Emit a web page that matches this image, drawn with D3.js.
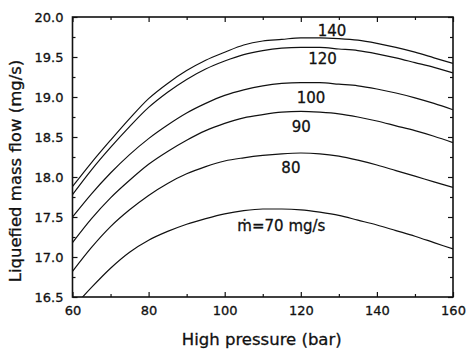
<!DOCTYPE html>
<html>
<head>
<meta charset="utf-8">
<script src="https://cdn.jsdelivr.net/npm/d3@7"></script>
<style>
  html, body { margin: 0; padding: 0; background: #fff; }
  svg { display: block; }
  text { font-family: "DejaVu Sans", sans-serif; fill: #111; stroke: #111; stroke-width: 0.3; }
</style>
</head>
<body>
<svg id="chart" width="466" height="352"></svg>
<script>
// High pressure (bar) sample points
const pressure = [60, 65, 70, 75, 80, 85, 90, 95, 100, 105, 110, 115, 120, 125, 130, 135, 140, 145, 150, 155, 160];

// Liquefied mass flow (mg/s) for each compressor mass flow
const flow140 = [17.88, 18.18, 18.46, 18.73, 18.98, 19.17, 19.33, 19.46, 19.56, 19.65, 19.70, 19.72, 19.74, 19.74, 19.73, 19.71, 19.67, 19.62, 19.56, 19.49, 19.42];
const flow120 = [17.78, 18.09, 18.37, 18.63, 18.87, 19.06, 19.22, 19.35, 19.45, 19.53, 19.58, 19.61, 19.62, 19.62, 19.60, 19.58, 19.54, 19.49, 19.43, 19.37, 19.30];
const flow100 = [17.50, 17.79, 18.05, 18.28, 18.48, 18.65, 18.80, 18.92, 19.02, 19.09, 19.14, 19.17, 19.18, 19.18, 19.16, 19.14, 19.10, 19.05, 18.99, 18.92, 18.84];
const flow90  = [17.18, 17.48, 17.74, 17.96, 18.16, 18.32, 18.46, 18.58, 18.67, 18.74, 18.78, 18.81, 18.82, 18.81, 18.79, 18.75, 18.70, 18.64, 18.58, 18.51, 18.43];
const flow80  = [16.82, 17.12, 17.38, 17.59, 17.77, 17.92, 18.04, 18.13, 18.20, 18.24, 18.27, 18.29, 18.30, 18.29, 18.26, 18.21, 18.15, 18.08, 18.01, 17.94, 17.87];
const flow70  = [16.36, 16.62, 16.86, 17.06, 17.21, 17.32, 17.41, 17.48, 17.54, 17.58, 17.60, 17.60, 17.59, 17.56, 17.52, 17.46, 17.40, 17.33, 17.26, 17.18, 17.10];

// Curve labels and where they sit (pressure, mass flow)
const curveLabels = ["140", "120", "100", "90", "80", "\u1E41=70 mg/s"];
const labelPressure = [128.2, 125.7, 122.7, 120.1, 117.4, 114.9];
const labelFlow = [19.83, 19.475, 18.99, 18.62, 18.11, 17.39];

// Axis ticks
const xTicks = [60, 80, 100, 120, 140, 160];
const xMinor = [70, 90, 110, 130, 150];
const yTicks = [16.5, 17.0, 17.5, 18.0, 18.5, 19.0, 19.5, 20.0];
const yMinor = [16.75, 17.25, 17.75, 18.25, 18.75, 19.25, 19.75];

const series = [flow140, flow120, flow100, flow90, flow80, flow70];

const svg = d3.select("#chart");
const plotLeft = 72.5, plotRight = 453, plotTop = 17, plotBottom = 297;

const x = d3.scaleLinear().domain([60, 160]).range([plotLeft, plotRight]);
const y = d3.scaleLinear().domain([16.5, 20.0]).range([plotBottom, plotTop]);

svg.append("defs").append("clipPath").attr("id", "plotClip")
  .append("rect").attr("x", plotLeft).attr("y", plotTop)
  .attr("width", plotRight - plotLeft).attr("height", plotBottom - plotTop);

// Curves
const line = d3.line()
  .x((d, i) => x(pressure[i]))
  .y(d => y(d))
  .curve(d3.curveMonotoneX);

svg.append("g").attr("clip-path", "url(#plotClip)")
  .selectAll("path").data(series).join("path")
  .attr("d", d => line(d))
  .attr("fill", "none")
  .attr("stroke", "#111")
  .attr("stroke-width", 1.2);

// Curve labels
svg.append("g").selectAll("text").data(curveLabels).join("text")
  .attr("x", (d, i) => x(labelPressure[i]))
  .attr("y", (d, i) => y(labelFlow[i]))
  .attr("text-anchor", "middle")
  .attr("dominant-baseline", "central")
  .attr("font-size", 15)
  .text(d => d);

// Axes: ticks point inward, mirrored on top and right
const axB = d3.axisBottom(x).tickValues(xTicks).tickSize(-5).tickPadding(9).tickFormat(d3.format("d"));
const axT = d3.axisTop(x).tickValues(xTicks).tickSize(-5).tickFormat("");
const axL = d3.axisLeft(y).tickValues(yTicks).tickSize(-5).tickPadding(9).tickFormat(d3.format(".1f"));
const axR = d3.axisRight(y).tickValues(yTicks).tickSize(-5).tickFormat("");
const axBm = d3.axisBottom(x).tickValues(xMinor).tickSize(-3).tickFormat("");
const axTm = d3.axisTop(x).tickValues(xMinor).tickSize(-3).tickFormat("");
const axLm = d3.axisLeft(y).tickValues(yMinor).tickSize(-3).tickFormat("");
const axRm = d3.axisRight(y).tickValues(yMinor).tickSize(-3).tickFormat("");

function styleAxis(g) {
  g.select(".domain").remove();
  g.selectAll(".tick line").attr("stroke", "#111").attr("stroke-width", 1.2);
  g.selectAll(".tick text").attr("font-size", 13).attr("fill", "#111")
    .style("font-family", "'DejaVu Sans', sans-serif");
}

svg.append("g").attr("transform", `translate(0,${plotBottom})`).call(axB).call(styleAxis);
svg.append("g").attr("transform", `translate(0,${plotBottom})`).call(axBm).call(styleAxis);
svg.append("g").attr("transform", `translate(0,${plotTop})`).call(axT).call(styleAxis);
svg.append("g").attr("transform", `translate(0,${plotTop})`).call(axTm).call(styleAxis);
svg.append("g").attr("transform", `translate(${plotLeft},0)`).call(axL).call(styleAxis);
svg.append("g").attr("transform", `translate(${plotLeft},0)`).call(axLm).call(styleAxis);
svg.append("g").attr("transform", `translate(${plotRight},0)`).call(axR).call(styleAxis);
svg.append("g").attr("transform", `translate(${plotRight},0)`).call(axRm).call(styleAxis);

// Frame
svg.append("rect")
  .attr("x", plotLeft).attr("y", plotTop)
  .attr("width", plotRight - plotLeft).attr("height", plotBottom - plotTop)
  .attr("fill", "none").attr("stroke", "#111").attr("stroke-width", 1.6);

// Axis titles
svg.append("text")
  .attr("x", (plotLeft + plotRight) / 2 - 1).attr("y", 345)
  .attr("text-anchor", "middle").attr("font-size", 16.5)
  .text("High pressure (bar)");

svg.append("text")
  .attr("transform", `translate(21,${(plotTop + plotBottom) / 2 + 14}) rotate(-90)`)
  .attr("text-anchor", "middle").attr("font-size", 16.5)
  .text("Liquefied mass flow (mg/s)");
</script>
</body>
</html>
